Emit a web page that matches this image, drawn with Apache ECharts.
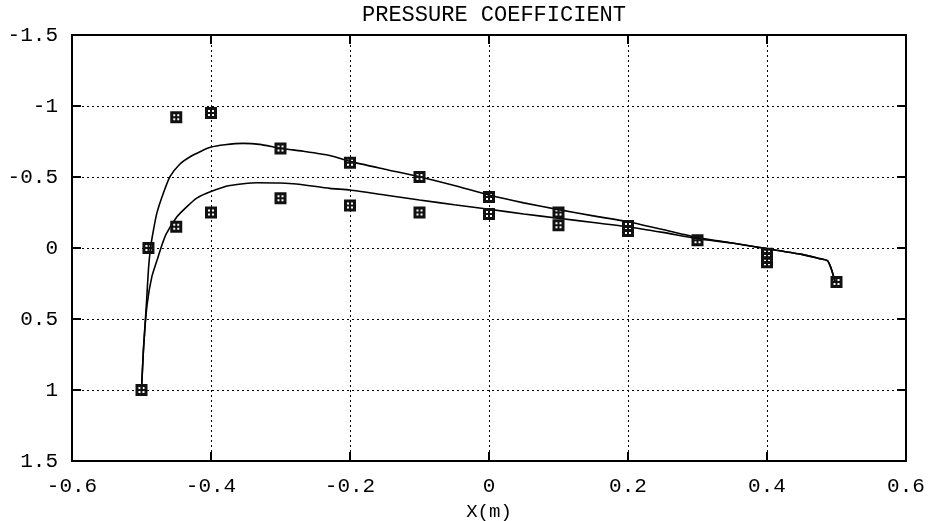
<!DOCTYPE html>
<html>
<head>
<meta charset="utf-8">
<script src="https://cdn.jsdelivr.net/npm/echarts@6/dist/echarts.min.js"></script>
<style>
html,body{margin:0;padding:0;background:#fff;}
#chart{width:935px;height:521px;}
</style>
</head>
<body>
<div id="chart"></div>
<script>
// Axis ticks
const xTicks = [-0.6, -0.4, -0.2, 0, 0.2, 0.4, 0.6];
const yTicks = [-1.5, -1, -0.5, 0, 0.5, 1, 1.5];

// Computed curve 1 (suction side, more negative Cp)
const upperX  = [-0.5, -0.497, -0.493, -0.490, -0.487, -0.483, -0.478, -0.469, -0.459, -0.445, -0.43, -0.415, -0.401, -0.38, -0.354, -0.33, -0.3, -0.265, -0.229, -0.2, -0.15, -0.1, -0.05, 0, 0.05, 0.1, 0.15, 0.2, 0.25, 0.3, 0.35, 0.39, 0.45, 0.476, 0.487, 0.492, 0.498];
const upperCp = [1.0, 0.7, 0.4, 0.15, 0.0, -0.12, -0.244, -0.38, -0.502, -0.59, -0.643, -0.68, -0.709, -0.727, -0.737, -0.73, -0.702, -0.68, -0.652, -0.61, -0.555, -0.502, -0.44, -0.373, -0.318, -0.27, -0.226, -0.185, -0.13, -0.074, -0.035, -0.003, 0.045, 0.075, 0.089, 0.14, 0.237];

// Computed curve 2 (pressure side)
const lowerX  = [-0.5, -0.497, -0.492, -0.485, -0.476, -0.47, -0.464, -0.449, -0.435, -0.421, -0.401, -0.373, -0.334, -0.3, -0.277, -0.229, -0.2, -0.15, -0.1, -0.05, 0, 0.05, 0.1, 0.15, 0.2, 0.25, 0.3, 0.35, 0.39, 0.45, 0.476, 0.487, 0.492, 0.498];
const lowerCp = [1.0, 0.7, 0.4, 0.2, 0.061, -0.03, -0.103, -0.22, -0.29, -0.35, -0.396, -0.44, -0.46, -0.458, -0.451, -0.42, -0.408, -0.373, -0.338, -0.305, -0.273, -0.24, -0.209, -0.18, -0.15, -0.11, -0.066, -0.035, -0.003, 0.045, 0.075, 0.089, 0.14, 0.237];

// Measured points
const expX  = [-0.5, -0.49, -0.45, -0.45, -0.4, -0.4, -0.3, -0.3, -0.2, -0.2, -0.1, -0.1, 0, 0, 0.1, 0.1, 0.2, 0.2, 0.3, 0.4, 0.4, 0.4, 0.5];
const expCp = [1.0, 0.0, -0.92, -0.15, -0.95, -0.25, -0.70, -0.35, -0.60, -0.30, -0.50, -0.25, -0.36, -0.24, -0.25, -0.16, -0.155, -0.12, -0.055, 0.04, 0.07, 0.10, 0.24];

const pair = (xs, ys) => xs.map((x, i) => [x, ys[i]]);
const FONT = '"Liberation Mono", "DejaVu Sans Mono", monospace';

// marker: black square with four white holes (holes wound opposite)
function hole(x, y, s) {
  return 'M' + x + ' ' + y + ' L' + x + ' ' + (y + s) + ' L' + (x + s) + ' ' + (y + s) + ' L' + (x + s) + ' ' + y + ' Z ';
}
const markerPath = 'path://M0 0 L12 0 L12 12 L0 12 Z ' +
  hole(3, 3, 2) + hole(7, 3, 2) + hole(3, 7, 2) + hole(7, 7, 2);

const chart = echarts.init(document.getElementById('chart'), null, {renderer: 'canvas'});

const lineStyleAxis = {color: '#000', width: 2};
const tickStyle = {show: true, inside: true, length: 9, lineStyle: {color: '#000', width: 2}};
const fmt = ticks => v => { const t = ticks.find(k => Math.abs(k - v) < 1e-9); return t === undefined ? '' : String(t); };

chart.setOption({
  animation: false,
  backgroundColor: '#fff',
  title: {
    text: 'PRESSURE COEFFICIENT',
    left: 489,
    textAlign: 'center',
    top: -1,
    textStyle: {fontFamily: FONT, fontSize: 22, fontWeight: 'normal', color: '#000'}
  },
  grid: {left: 72, right: 29, top: 35, bottom: 60, outerBoundsMode: 'none', containLabel: false},
  xAxis: [{
    type: 'value',
    position: 'bottom',
    min: xTicks[0], max: xTicks[xTicks.length - 1], interval: 0.2,
    axisLine: {show: true, onZero: false, lineStyle: lineStyleAxis},
    axisTick: tickStyle,
    splitLine: {show: true, lineStyle: {color: '#000', width: 1, type: [2, 3]}},
    axisLabel: {color: '#000', fontFamily: FONT, fontSize: 21, margin: 15, formatter: fmt(xTicks)},
    name: 'X(m)',
    nameLocation: 'middle',
    nameGap: 41,
    nameTextStyle: {color: '#000', fontFamily: FONT, fontSize: 19}
  }, {
    type: 'value',
    position: 'top',
    min: xTicks[0], max: xTicks[xTicks.length - 1], interval: 0.2,
    axisLine: {show: true, onZero: false, lineStyle: lineStyleAxis},
    axisTick: tickStyle,
    splitLine: {show: false},
    axisLabel: {show: false}
  }],
  yAxis: [{
    type: 'value',
    position: 'left',
    inverse: true,
    min: yTicks[0], max: yTicks[yTicks.length - 1], interval: 0.5,
    axisLine: {show: true, onZero: false, lineStyle: lineStyleAxis},
    axisTick: tickStyle,
    splitLine: {show: true, lineStyle: {color: '#000', width: 1, type: [2, 3]}},
    axisLabel: {color: '#000', fontFamily: FONT, fontSize: 21, margin: 14, formatter: fmt(yTicks)}
  }, {
    type: 'value',
    position: 'right',
    inverse: true,
    min: yTicks[0], max: yTicks[yTicks.length - 1], interval: 0.5,
    axisLine: {show: true, onZero: false, lineStyle: lineStyleAxis},
    axisTick: tickStyle,
    splitLine: {show: false},
    axisLabel: {show: false}
  }],
  series: [{
    type: 'line',
    data: pair(upperX, upperCp),
    showSymbol: false,
    smooth: 0.2,
    lineStyle: {color: '#000', width: 1.6},
    z: 3
  }, {
    type: 'line',
    data: pair(lowerX, lowerCp),
    showSymbol: false,
    smooth: 0.2,
    lineStyle: {color: '#000', width: 1.6},
    z: 3
  }, {
    type: 'scatter',
    data: pair(expX, expCp),
    symbol: markerPath,
    symbolSize: 12,
    itemStyle: {color: '#111', opacity: 1},
    z: 4
  }]
});
</script>
</body>
</html>
